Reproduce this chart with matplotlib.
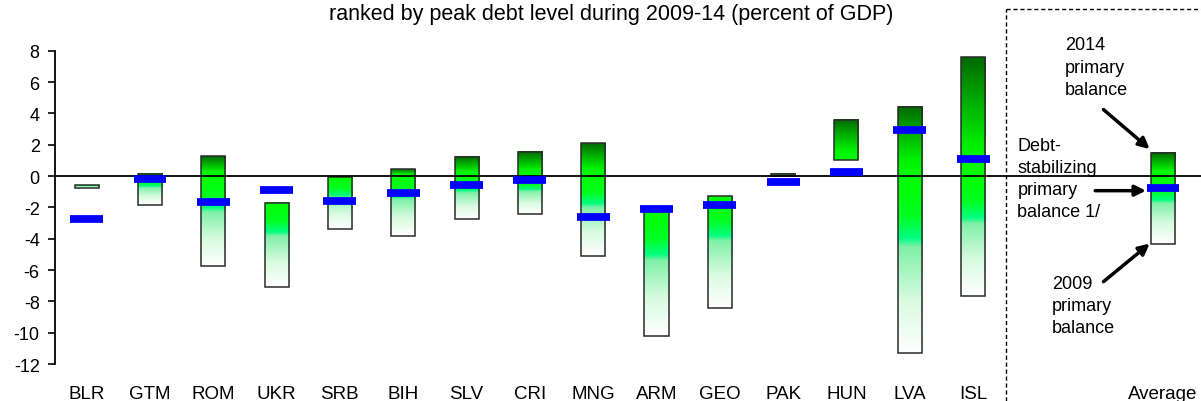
import numpy as np
import matplotlib
matplotlib.use('Agg')
import matplotlib.pyplot as plt
from matplotlib.colors import LinearSegmentedColormap
from matplotlib.lines import Line2D

plt.rcParams['font.family'] = ['Liberation Sans', 'DejaVu Sans']
plt.rcParams['font.size'] = 13
plt.rcParams['axes.unicode_minus'] = False

#===============================================================================
countries = ['BLR', 'GTM', 'ROM', 'UKR', 'SRB', 'BIH', 'SLV', 'CRI', 'MNG',
             'ARM', 'GEO', 'PAK', 'HUN', 'LVA', 'ISL', 'Average']
pb2014 = [-0.59, 0.16, 1.27, -1.69, -0.05, 0.43, 1.23, 1.55, 2.10,
          -2.18, -1.29, 0.16, 3.57, 4.42, 7.59, 1.48]
pb2009 = [-0.73, -1.82, -5.74, -7.10, -3.35, -3.85, -2.76, -2.40, -5.12,
          -10.21, -8.42, 0.00, 1.01, -11.28, -7.68, -4.31]
debt_stab = [-2.76, -0.16, -1.67, -0.86, -1.57, -1.05, -0.59, -0.27, -2.59,
             -2.08, -1.87, -0.37, 0.24, 2.93, 1.12, -0.78]
#===============================================================================
xpos = list(range(15)) + [17]
w = 0.38

cm_pos = LinearSegmentedColormap.from_list('pos', [(0.0, '#006a00'), (0.75, '#00f000'), (1.0, '#00ff00')])
cm_neg = LinearSegmentedColormap.from_list('neg', [(0.0, '#00ff00'), (0.22, '#00ff20'), (0.35, '#00ff80'),
                                                   (0.40, '#80f0a8'), (0.70, '#d8fbe0'), (1.0, '#ffffff')])
grad = np.linspace(0, 1, 256).reshape(-1, 1)

fig = plt.figure(figsize=(12.01, 4.02), dpi=100, facecolor='w')
ax = fig.add_axes([0.0458, 0.092, 0.9542, 0.779])

for x, top, bot in zip(xpos, pb2014, pb2009):
    if top > 0:
        ax.imshow(grad, cmap=cm_pos, extent=[x - w/2, x + w/2, max(bot, 0), top],
                  aspect='auto', origin='upper', interpolation='bilinear', zorder=2)
    if bot < 0:
        ax.imshow(grad, cmap=cm_neg, extent=[x - w/2, x + w/2, bot, min(top, 0)],
                  aspect='auto', origin='upper', interpolation='bilinear', zorder=2)
ax.bar(xpos, np.array(pb2014) - np.array(pb2009), bottom=pb2009, width=w,
       fill=False, edgecolor='#2a2a2a', lw=1.1, zorder=3)

ax.axhline(0, color='black', lw=1.3, zorder=4)
ax.hlines(debt_stab, np.array(xpos) - 0.26, np.array(xpos) + 0.26,
          color='#0000ff', lw=5.6, zorder=5)

ax.set_xlim(-0.5, 17.6)
ax.set_ylim(-12, 8)
ax.set_yticks(range(-12, 9, 2))
ax.set_xticks(xpos)
ax.set_xticklabels(countries, fontsize=13.5)
ax.tick_params(axis='x', length=0, pad=15)
ax.tick_params(axis='y', length=5, width=1.2, pad=6, direction='out')
for s in ['top', 'right', 'bottom']:
    ax.spines[s].set_visible(False)
ax.spines['left'].set_linewidth(1.3)

# labels for the Average column
xa, top_a, bot_a, ds_a = xpos[-1], pb2014[-1], pb2009[-1], debt_stab[-1]
ax.text(15.45, 8.92, '2014\nprimary\nbalance', va='top', ha='left', linespacing=1.4)
ax.text(14.70, 2.53, 'Debt-\nstabilizing\nprimary\nbalance 1/', va='top', ha='left', linespacing=1.4)
ax.text(15.25, -6.3, '2009\nprimary\nbalance', va='top', ha='left', linespacing=1.4)
arw = dict(arrowstyle='-|>', color='black', lw=2.5, mutation_scale=16, shrinkA=0, shrinkB=0)
ax.annotate('', xy=(xa - w/2 - 0.02, top_a + 0.25), xytext=(16.06, 4.25), arrowprops=arw)
ax.annotate('', xy=(xa - 0.27, ds_a - 0.15), xytext=(15.93, ds_a - 0.15), arrowprops=arw)
ax.annotate('', xy=(xa - w/2 - 0.02, bot_a), xytext=(16.06, -6.74), arrowprops=arw)

# dashed frame round the Average panel
fig.add_artist(Line2D([1006/1201, 1006/1201], [0, 1 - 10/402], transform=fig.transFigure,
                      color='black', lw=1, ls=(0, (3, 2))))
fig.add_artist(Line2D([1006/1201, 1], [1 - 10/402, 1 - 10/402], transform=fig.transFigure,
                      color='black', lw=1, ls=(0, (3, 2))))

fig.text(0.509, 0.963, 'ranked by peak debt level during 2009-14 (percent of GDP)',
         ha='center', va='center', fontsize=15.5)

plt.savefig('out.png', dpi=100)
